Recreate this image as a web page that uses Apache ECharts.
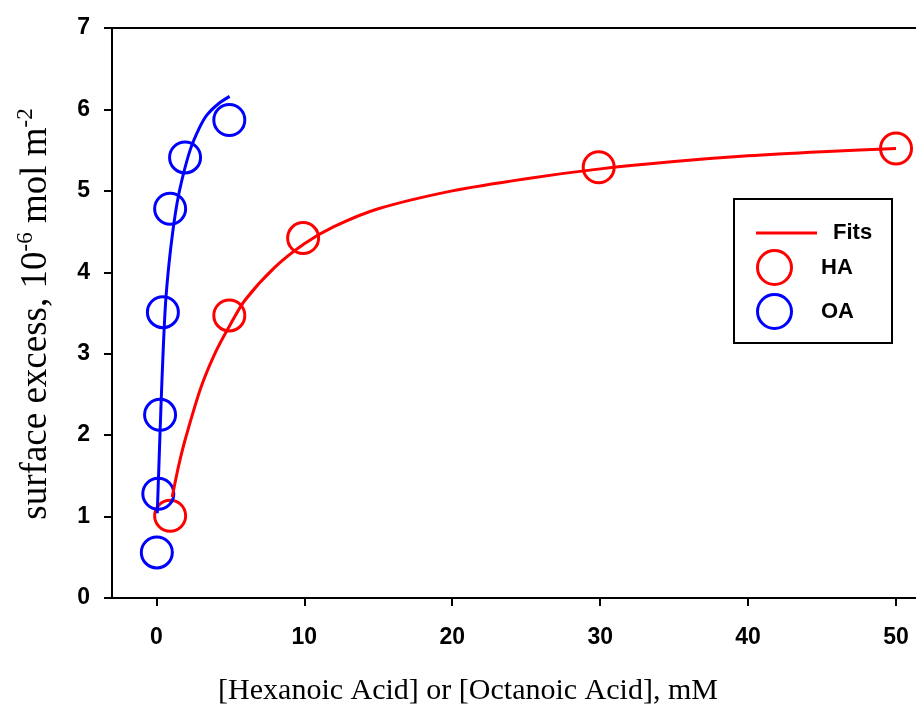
<!DOCTYPE html>
<html>
<head>
<meta charset="utf-8">
<script src="https://cdn.jsdelivr.net/npm/echarts@6/dist/echarts.min.js"></script>
<style>
	html, body { margin: 0; padding: 0; background: #fff; }
	#main { width: 916px; height: 713px; }
</style>
</head>
<body>
<div id="main"></div>
<script>
// measured points
var haConc = [0.93, 4.93, 9.92, 29.9, 50];
var haExcess = [1.01, 3.47, 4.42, 5.29, 5.52];
var oaConc = [0.03, 0.13, 0.25, 0.44, 0.93, 1.94, 4.93];
var oaExcess = [0.56, 1.28, 2.25, 3.51, 4.78, 5.41, 5.87];

// fit curves
var haFitConc = [1.07, 1.5, 2, 3, 4, 5, 6, 8, 10, 12, 15, 20, 25, 30, 35, 40, 45, 50];
var haFitExcess = [1.24, 1.62, 1.98, 2.58, 3.02, 3.36, 3.66, 4.06, 4.35, 4.56, 4.78, 5.0, 5.15, 5.27, 5.36, 5.43, 5.48, 5.52];
var oaFitConc = [0.06, 0.17, 0.3, 0.45, 0.62, 0.85, 1.11, 1.4, 1.72, 2.28, 2.9, 3.41, 4.2, 4.95];
var oaFitExcess = [1.04, 1.62, 2.3, 3.0, 3.62, 4.1, 4.5, 4.85, 5.13, 5.5, 5.77, 5.93, 6.07, 6.16];

var xTicks = [0, 10, 20, 30, 40, 50];

function pairs(xs, ys) {
	var out = [];
	for(var i = 0; i < xs.length; i++) {
		out.push([xs[i], ys[i]]);
	}
	return out;
}

var sans = 'Liberation Sans, Arial, sans-serif';
var serif = 'Liberation Serif, Times New Roman, serif';
var xMin = -3, xMax = 51.35;

var chart = echarts.init(document.getElementById('main'));
var option = {
	animation: false,
	backgroundColor: '#fff',
	grid: {
		left: 112,
		right: 0,
		top: 28,
		bottom: 115
	},
	legend: [{
		data: [{ name: 'Fits', icon: 'rect' }],
		left: 751,
		top: 217,
		orient: 'vertical',
		itemWidth: 61,
		itemHeight: 3,
		textStyle: { fontFamily: sans, fontWeight: 'bold', fontSize: 22, color: '#000', padding: [0, 0, 0, 11] }
	}, {
		data: ['HA', 'OA'],
		left: 751,
		top: 244,
		orient: 'vertical',
		itemGap: 7,
		itemWidth: 61,
		itemHeight: 34,
		itemStyle: { borderWidth: 3 },
		textStyle: { fontFamily: sans, fontWeight: 'bold', fontSize: 22, color: '#000', padding: [0, 0, 0, 11] }
	}],
	xAxis: [{
		type: 'value',
		min: xMin,
		max: xMax,
		splitLine: { show: false },
		axisLine: { lineStyle: { color: '#000', width: 2 } },
		axisTick: { length: 8, lineStyle: { color: '#000', width: 2 }, customValues: xTicks },
		axisLabel: { customValues: xTicks, margin: 28, fontFamily: sans, fontWeight: 'bold', fontSize: 23, color: '#000' }
	}, {
		// top frame line only
		type: 'value',
		position: 'top',
		min: xMin,
		max: xMax,
		splitLine: { show: false },
		axisLine: { show: true, lineStyle: { color: '#000', width: 2 } },
		axisTick: { show: false },
		axisLabel: { show: false }
	}],
	yAxis: {
		type: 'value',
		min: 0,
		max: 7,
		interval: 1,
		splitLine: { show: false },
		axisLine: { show: true, onZero: false, lineStyle: { color: '#000', width: 2 } },
		axisTick: { show: true, length: 8, lineStyle: { color: '#000', width: 2 } },
		axisLabel: { margin: 22, fontFamily: sans, fontWeight: 'bold', fontSize: 23, color: '#000' }
	},
	graphic: [{
		type: 'rect',
		shape: { x: 734, y: 199, width: 158, height: 144 },
		style: { fill: 'none', stroke: '#000', lineWidth: 2 },
		z: 1
	}, {
		type: 'text',
		x: 468,
		y: 691,
		style: {
			text: '[Hexanoic Acid] or [Octanoic Acid], mM',
			font: '30px ' + serif,
			fill: '#000',
			align: 'center',
			verticalAlign: 'middle'
		}
	}, {
		type: 'text',
		x: 36,
		y: 314,
		rotation: Math.PI / 2,
		style: {
			text: '{a|surface excess, 10}{s|-6}{a| mol m}{s|-2}',
			align: 'center',
			verticalAlign: 'middle',
			rich: {
				a: { fontFamily: serif, fontSize: 37, color: '#000' },
				s: { fontFamily: serif, fontSize: 23, color: '#000', padding: [0, 0, 21, 0] }
			}
		}
	}],
	series: [{
		name: 'HA',
		type: 'scatter',
		symbol: 'circle',
		symbolSize: 31,
		itemStyle: { color: 'rgba(255,255,255,0)', borderColor: '#ff0000', borderWidth: 3, opacity: 1 },
		data: pairs(haConc, haExcess),
		z: 3
	}, {
		name: 'OA',
		type: 'scatter',
		symbol: 'circle',
		symbolSize: 31,
		itemStyle: { color: 'rgba(255,255,255,0)', borderColor: '#0000ff', borderWidth: 3, opacity: 1 },
		data: pairs(oaConc, oaExcess),
		z: 3
	}, {
		name: 'Fits',
		type: 'line',
		smooth: 0.3,
		showSymbol: false,
		symbol: 'none',
		lineStyle: { color: '#ff0000', width: 3 },
		itemStyle: { color: '#ff0000' },
		data: pairs(haFitConc, haFitExcess),
		z: 4
	}, {
		name: 'Fits',
		type: 'line',
		smooth: 0.3,
		showSymbol: false,
		symbol: 'none',
		lineStyle: { color: '#0000ff', width: 3 },
		itemStyle: { color: '#0000ff' },
		data: pairs(oaFitConc, oaFitExcess),
		z: 4
	}]
};
chart.setOption(option);
</script>
</body>
</html>
